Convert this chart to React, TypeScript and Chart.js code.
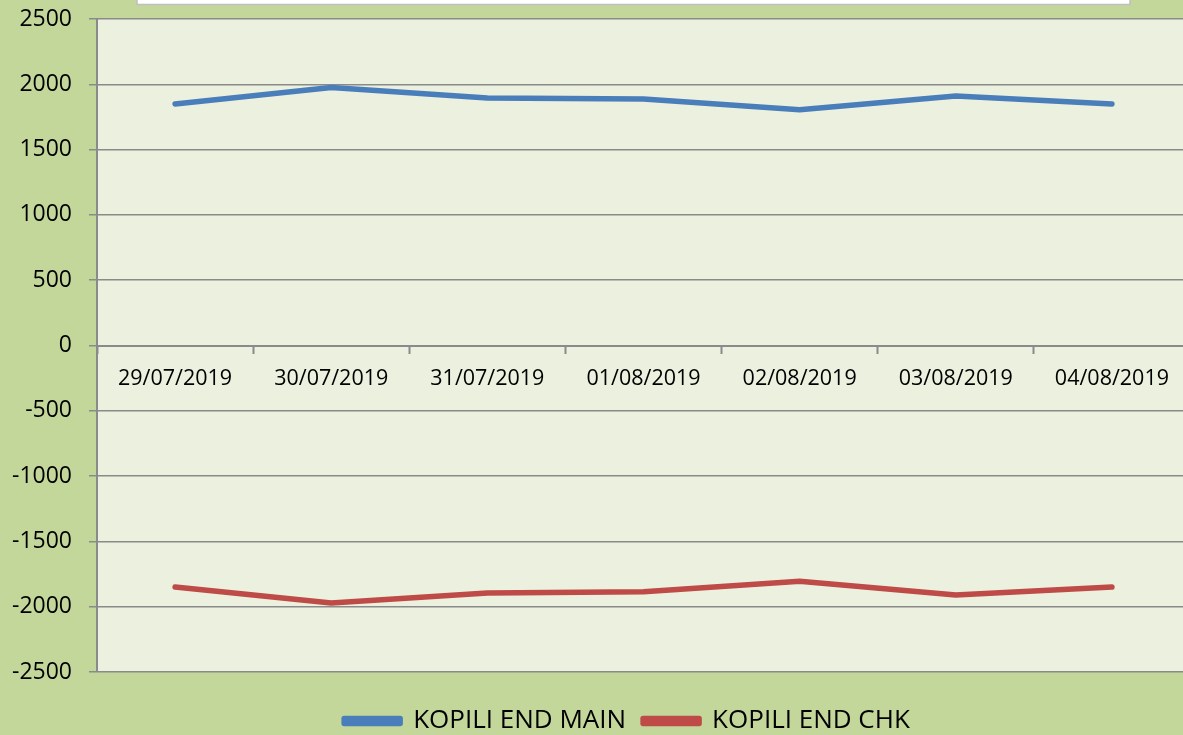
import React, { useEffect, useRef } from "react";
import { Chart, registerables } from "chart.js";

Chart.register(...registerables);

const categories = ["29/07/2019", "30/07/2019", "31/07/2019", "01/08/2019", "02/08/2019", "03/08/2019", "04/08/2019"];
const mainValues = [1850, 1975, 1896, 1887, 1806, 1911, 1850];
const chkValues = [-1850, -1972, -1896, -1886, -1806, -1910, -1850];
const yMin = -2500;
const yMax = 2500;
const yStep = 500;

const OUTER_BG = "#c4d79b";
const PLOT_BG = "#ebf1de";
const GRID = "#8a8a8a";

const bgPlugin = {
  id: "bgPlugin",
  beforeDraw(chart: any) {
    const { ctx, chartArea } = chart;
    ctx.save();
    ctx.fillStyle = OUTER_BG;
    ctx.fillRect(0, 0, chart.width, chart.height);
    ctx.fillStyle = PLOT_BG;
    ctx.fillRect(chartArea.left, chartArea.top, chartArea.right - chartArea.left, chartArea.bottom - chartArea.top);
    // partially visible title box at the top
    ctx.fillStyle = "#ffffff";
    ctx.fillRect(137, -10, 993, 14.5);
    ctx.strokeStyle = "#bfbfbf";
    ctx.lineWidth = 1.5;
    ctx.strokeRect(137, -10, 993, 14.5);
    ctx.restore();
  },
};

export default function App() {
  const ref = useRef<HTMLCanvasElement>(null);
  useEffect(() => {
    document.body.style.margin = "0";
    const chart = new Chart(ref.current as HTMLCanvasElement, {
      type: "line",
      data: {
        labels: categories,
        datasets: [
          {
            label: "KOPILI END MAIN",
            data: mainValues,
            borderColor: "#4a7ebb",
            backgroundColor: "#4a7ebb",
            borderWidth: 5.5,
            borderCapStyle: "round",
            borderJoinStyle: "round",
            pointRadius: 0,
            tension: 0,
            xAxisID: "x",
            yAxisID: "y",
          },
          {
            label: "KOPILI END CHK",
            data: chkValues,
            borderColor: "#be4b48",
            backgroundColor: "#be4b48",
            borderWidth: 5.5,
            borderCapStyle: "round",
            borderJoinStyle: "round",
            pointRadius: 0,
            tension: 0,
            xAxisID: "x",
            yAxisID: "y",
          },
        ],
      },
      options: {
        responsive: false,
        animation: false,
        devicePixelRatio: 1,
        layout: { padding: { top: 19, left: 0, right: 0, bottom: 0 } },
        plugins: {
          tooltip: { enabled: false },
          title: { display: false },
          legend: {
            display: true,
            position: "bottom",
            maxHeight: 44,
            labels: {
              boxWidth: 56,
              boxHeight: 5,
              padding: 17,
              color: "#000000",
              font: { family: "'Open Sans'", size: 26 },
            },
          },
        },
        scales: {
          x: {
            type: "category",
            position: { y: 0 } as any,
            offset: true,
            grid: {
              display: true,
              offset: true,
              drawOnChartArea: false,
              drawTicks: true,
              tickLength: 7,
              tickColor: GRID,
              tickWidth: 2,
            },
            border: { display: true, color: GRID, width: 2 },
            ticks: {
              color: "#000000",
              padding: 13,
              maxRotation: 0,
              autoSkip: false,
              font: { family: "'Open Sans'", size: 21.5 },
            },
          },
          xB: {
            type: "linear",
            axis: "x",
            position: "bottom",
            display: true,
            grid: { display: false },
            border: { display: false },
            ticks: { display: false },
            afterFit: (s: any) => {
              s.height = 19;
            },
          } as any,
          y: {
            type: "linear",
            position: "left",
            min: yMin,
            max: yMax,
            grid: {
              color: GRID,
              lineWidth: 1.5,
              drawTicks: true,
              tickLength: 8,
              tickColor: GRID,
            },
            border: { display: true, color: GRID, width: 2 },
            ticks: {
              stepSize: yStep,
              color: "#000000",
              padding: 17,
              font: { family: "'Open Sans'", size: 23 },
              callback: (v: any) => String(v),
            },
            afterFit: (s: any) => {
              s.width = 97;
              s.paddingTop = 0;
              s.paddingBottom = 0;
            },
          },
          yR: {
            type: "linear",
            axis: "y",
            position: "right",
            display: true,
            grid: { display: false },
            border: { display: false },
            ticks: { display: false },
            afterFit: (s: any) => {
              s.width = 64;
              s.paddingTop = 0;
              s.paddingBottom = 0;
            },
          } as any,
        },
      },
      plugins: [bgPlugin],
    });
    return () => chart.destroy();
  }, []);
  return (
    <div style={{ position: "fixed", left: 0, top: 0, width: 1183, height: 735, overflow: "hidden" }}>
      <canvas ref={ref} width={1254} height={735} style={{ display: "block" }} />
    </div>
  );
}
